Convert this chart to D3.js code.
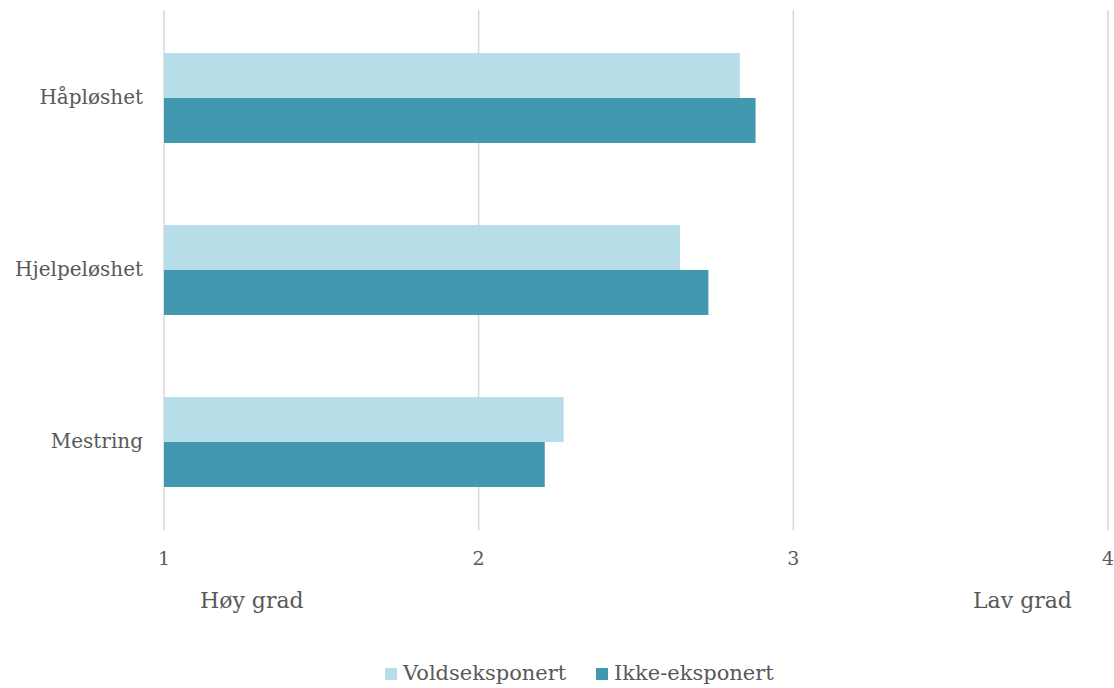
<!DOCTYPE html>
<html>
<head>
<meta charset="utf-8">
<script src="https://cdn.jsdelivr.net/npm/d3@7"></script>
<style>
  body { margin: 0; background: #fff; }
  text { font-family: "DejaVu Serif", "Liberation Serif", serif; fill: #595959; }
</style>
</head>
<body>
<div id="chart"></div>
<script>
// chart data
const categories = ['Håpløshet', 'Hjelpeløshet', 'Mestring'];
const seriesNames = ['Voldseksponert', 'Ikke-eksponert'];
const voldseksponert = [2.83, 2.64, 2.27];
const ikkeEksponert = [2.88, 2.73, 2.21];
const xTicks = [1, 2, 3, 4];
const endLabels = ['Høy grad', 'Lav grad'];

const COLORS = ['#B7DEE8', '#4198AF'];

const W = 1114, H = 688;
const m = { left: 164, right: 6, top: 12, bottom: 160 };

const svg = d3.select('#chart').append('svg')
  .attr('width', W)
  .attr('height', H);

const x = d3.scaleLinear().domain([1, 4]).range([m.left, W - m.right]);
const y = d3.scaleBand().domain(categories).range([m.top, H - m.bottom]).paddingInner(0.477).paddingOuter(0.2385);
const yInner = d3.scaleBand().domain(seriesNames).range([0, y.bandwidth()]);

// gridlines
svg.selectAll('.grid')
  .data(xTicks)
  .enter().append('line')
  .attr('x1', d => x(d)).attr('x2', d => x(d))
  .attr('y1', 10).attr('y2', 530)
  .attr('stroke', '#d9d9d9')
  .attr('stroke-width', 1.5);

// bars
const rows = categories.map((c, i) => ({ cat: c, vals: [voldseksponert[i], ikkeEksponert[i]] }));
const g = svg.selectAll('.row')
  .data(rows)
  .enter().append('g')
  .attr('transform', d => 'translate(0,' + y(d.cat) + ')');

g.selectAll('rect')
  .data(d => d.vals.map((v, j) => ({ v: v, s: seriesNames[j], j: j })))
  .enter().append('rect')
  .attr('x', x(1))
  .attr('y', d => yInner(d.s))
  .attr('width', d => x(d.v) - x(1))
  .attr('height', yInner.bandwidth())
  .attr('fill', d => COLORS[d.j]);

// category labels
svg.selectAll('.cat')
  .data(categories)
  .enter().append('text')
  .attr('x', 143)
  .attr('y', d => y(d) + y.bandwidth() / 2)
  .attr('dy', '0.3em')
  .attr('text-anchor', 'end')
  .style('font-size', '20px')
  .text(d => d);

// tick labels
svg.selectAll('.tick-label')
  .data(xTicks)
  .enter().append('text')
  .attr('x', d => x(d))
  .attr('y', 565)
  .attr('text-anchor', 'middle')
  .style('font-size', '19px')
  .text(d => d);

// end labels
svg.append('text').attr('x', 200).attr('y', 608).style('font-size', '22px').text(endLabels[0]);
svg.append('text').attr('x', 973).attr('y', 608).style('font-size', '22px').text(endLabels[1]);

// legend
const legendX = [385, 596];
const lg = svg.selectAll('.legend')
  .data(seriesNames)
  .enter().append('g')
  .attr('transform', (d, i) => 'translate(' + legendX[i] + ',668)');
lg.append('rect').attr('width', 12).attr('height', 12).attr('fill', (d, i) => COLORS[i]);
lg.append('text').attr('x', 18).attr('y', 12).style('font-size', '21px').text(d => d);
</script>
</body>
</html>
